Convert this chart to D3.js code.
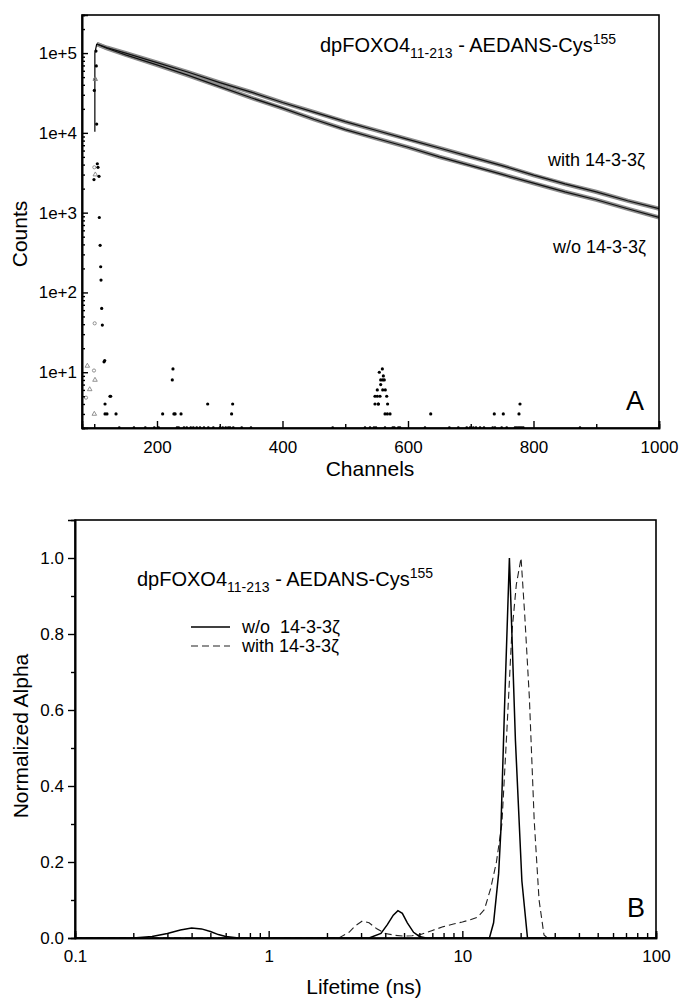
<!DOCTYPE html>
<html><head><meta charset="utf-8">
<script src="https://cdn.jsdelivr.net/npm/d3@7"></script>
<style>
html,body{margin:0;padding:0;background:#fff;}
svg{display:block;font-family:"Liberation Sans",Arial,sans-serif;}
</style></head>
<body>
<svg id="chart" width="681" height="999"></svg>
<script>
// ---------- Panel A data ----------
const decayChannels = [104, 120, 150, 200, 250, 300, 350, 400, 450, 500, 550, 600, 650, 700, 750, 800, 850, 900, 950, 1000];
const decayWith     = [1.30e5, 1.17e5, 1.0e5, 7.6e4, 5.75e4, 4.27e4, 3.24e4, 2.40e4, 1.82e4, 1.38e4, 1.07e4, 8.3e3, 6.46e3, 5.0e3, 3.89e3, 2.95e3, 2.29e3, 1.82e3, 1.41e3, 1.12e3];
const decayWithout  = [1.30e5, 1.15e5, 9.5e4, 7.1e4, 5.25e4, 3.8e4, 2.75e4, 2.04e4, 1.48e4, 1.10e4, 8.5e3, 6.6e3, 5.0e3, 3.89e3, 3.02e3, 2.34e3, 1.82e3, 1.45e3, 1.12e3, 8.7e2];
// fitted rising edge (thin black line)
const riseFitCh  = [101, 101, 104];
const riseFitVal = [1.03e4, 1.0e5, 1.30e5];
// rising-edge raw data (open symbols)
const riseWithCh  = [86.9, 99.6, 100.7, 100.1, 101.2];
const riseWithVal = [4.8, 10.5, 41, 3.7e3, 4.7e4];
const riseWoCh    = [89, 92.8, 101.2, 100.1, 101.7, 101.7];
const riseWoVal   = [12, 6.1, 8, 3.0, 3.0e3, 4.7e4];
// instrument response / low-count points (filled dots)
const irfCh  = [102.8, 103.3, 100.1, 103.9, 104.9, 106, 99.6, 107.6, 108.1, 109.4, 110.3, 110.8, 111.9, 112.9, 115.6, 116.7, 117.2, 117.2, 120.3, 125.1, 126.2, 134.7,
  209, 224.4, 225.5, 227, 228.9, 238.3, 280.8, 320.6, 318.9,
  547.4, 551.1, 552.7, 554.3, 555.4, 556.5, 559.1, 559.7, 560.7, 562.2, 563.8, 566.1, 567.5, 547.4, 552.7, 563.4, 567.1, 571.4, 551.1, 559.7, 556.5,
  636.2, 737.5, 751.9, 778.5, 776.9];
const irfVal = [1.06e5, 6.9e4, 3.4e4, 1.29e4, 4.1e3, 3.7e3, 2.6e3, 2.85e3, 870, 390, 210, 143, 63, 39, 13.5, 14, 4, 3, 3, 5, 5, 3,
  3, 8, 11, 3, 3, 3, 4, 4, 3,
  5, 5, 4, 10, 5, 7, 11, 6, 9, 8, 6, 5, 4, 4, 4, 3, 3, 3, 6, 8, 8,
  3, 3, 3, 4, 3];
const baseCh = [139.9, 163.3, 181.4, 195.7, 202.7, 231.9, 234.6, 243, 247.4, 253.8, 257.9, 263.3, 268.5, 274.9, 281.8, 289.8, 300.4, 304.7, 309.5, 313.6, 316.4, 321.6, 335, 349.8, 480,
  531.5, 539.5, 545.8, 549, 563.4, 575.7, 578.2, 584.6, 587.3, 627.1, 665.9, 680.2, 693.6, 698.8, 704.1, 708.4, 714.8, 721.1, 735, 738.6, 749.3, 757.3, 770.5, 773.2, 775.8, 778.5, 781.2, 783.8, 874.1];
const baseVal = 2;
const yTicksA = [10, 100, 1e3, 1e4, 1e5];
const yTickLabelsA = ["1e+1", "1e+2", "1e+3", "1e+4", "1e+5"];
const xTicksA = [200, 400, 600, 800, 1000];
const xTickLabelsA = ["200", "400", "600", "800", "1000"];
const xMinorA = [100, 300, 500, 700, 900];

// ---------- Panel B data ----------
const lifeWo  = [0.1, 0.2, 0.25, 0.3, 0.35, 0.4, 0.45, 0.5, 0.55, 0.6, 0.7, 3.3, 3.8, 4.1, 4.4, 4.65, 4.9, 5.2, 5.6, 6.0, 6.5, 13.8, 14.5, 15.4, 15.8, 16.5, 17.5, 18.8, 20.3, 21.7, 100];
const alphaWo = [0, 0, 0.004, 0.012, 0.021, 0.026, 0.024, 0.017, 0.009, 0.004, 0, 0, 0.012, 0.035, 0.06, 0.072, 0.065, 0.04, 0.015, 0.004, 0, 0, 0.04, 0.17, 0.28, 0.6, 1.0, 0.52, 0.15, 0, 0];
const lifeWith  = [0.1, 2.3, 2.6, 2.8, 3.05, 3.3, 3.6, 4.0, 4.5, 5.0, 5.5, 6.0, 7.0, 8.0, 9.0, 10.0, 11.0, 12.0, 13.0, 14.0, 15.0, 16.0, 17.0, 18.0, 19.0, 20.1, 21.0, 22.2, 23.5, 24.9, 26.4, 27.5, 100];
const alphaWith = [0, 0, 0.015, 0.032, 0.045, 0.040, 0.025, 0.012, 0.007, 0.005, 0.006, 0.008, 0.02, 0.03, 0.037, 0.042, 0.048, 0.055, 0.075, 0.13, 0.2, 0.3, 0.55, 0.8, 0.93, 1.0, 0.85, 0.63, 0.31, 0.1, 0.008, 0, 0];
const xTicksB = [0.1, 1, 10, 100];
const xTickLabelsB = ["0.1", "1", "10", "100"];
const yTicksB = [0, 0.2, 0.4, 0.6, 0.8, 1.0];
const yMinorB = [0.1, 0.3, 0.5, 0.7, 0.9];

const svg = d3.select("#chart");
const FONT = 17;

// ================= Panel A =================
const A = {l: 82, t: 15, r: 659, b: 428};
const xA = d3.scaleLinear().domain([80.5, 1000]).range([A.l, A.r]);
const yA = d3.scaleLog().domain([2, 3e5]).range([A.b, A.t]);
const gA = svg.append("g");

const clipA = svg.append("clipPath").attr("id", "clipA");
clipA.append("rect").attr("x", A.l).attr("y", A.t - 2).attr("width", A.r - A.l).attr("height", A.b - A.t + 4);

const plotA = gA.append("g").attr("clip-path", "url(#clipA)");
const lineA = d3.line().x((d, i) => xA(decayChannels[i])).y(d => yA(d));
[decayWith, decayWithout].forEach(s => {
  plotA.append("path").attr("d", lineA(s)).attr("fill", "none").attr("stroke", "#8c8c8c").attr("stroke-width", 4.2);
});
[decayWith, decayWithout].forEach(s => {
  plotA.append("path").attr("d", lineA(s)).attr("fill", "none").attr("stroke", "#111").attr("stroke-width", 1.2);
});
const riseLine = d3.line().x((d, i) => xA(riseFitCh[i])).y(d => yA(d));
plotA.append("path").attr("d", riseLine(riseFitVal)).attr("fill", "none").attr("stroke", "#000").attr("stroke-width", 1.2);
// open symbols
plotA.selectAll("circle.rw").data(riseWithVal).join("circle")
  .attr("cx", (d, i) => xA(riseWithCh[i])).attr("cy", d => yA(d)).attr("r", 1.6)
  .attr("fill", "none").attr("stroke", "#777").attr("stroke-width", 0.8);
const tri = d3.symbol().type(d3.symbolTriangle).size(9);
plotA.selectAll("path.ro").data(riseWoVal).join("path")
  .attr("d", tri).attr("transform", (d, i) => `translate(${xA(riseWoCh[i])},${yA(d)})`)
  .attr("fill", "none").attr("stroke", "#777").attr("stroke-width", 0.8);
// filled dots
plotA.selectAll("circle.irf").data(irfVal).join("circle")
  .attr("cx", (d, i) => xA(irfCh[i])).attr("cy", d => yA(d)).attr("r", 1.6).attr("fill", "#000");
plotA.selectAll("circle.base").data(baseCh).join("circle")
  .attr("cx", d => xA(d)).attr("cy", yA(baseVal) - 0.5).attr("r", 1.3).attr("fill", "#000");

// frame
gA.append("rect").attr("x", A.l).attr("y", A.t).attr("width", A.r - A.l).attr("height", A.b - A.t)
  .attr("fill", "none").attr("stroke", "#000").attr("stroke-width", 1.6);

// axes
const yMinorA = [];
for (let e = 0; e <= 5; e++) for (let m = 2; m <= 9; m++) { const v = m * Math.pow(10, e); if (v >= 2 && v <= 3e5) yMinorA.push(v); }
gA.append("g").attr("transform", `translate(${A.l},0)`)
  .call(d3.axisLeft(yA).tickValues(yTicksA).tickFormat((d, i) => yTickLabelsA[i]).tickSize(-6).tickPadding(5));
gA.append("g").attr("transform", `translate(${A.l},0)`)
  .call(d3.axisLeft(yA).tickValues(yMinorA).tickFormat("").tickSize(-3));
gA.append("g").attr("transform", `translate(0,${A.b})`)
  .call(d3.axisBottom(xA).tickValues(xTicksA).tickFormat((d, i) => xTickLabelsA[i]).tickSize(-7).tickPadding(13));
gA.append("g").attr("transform", `translate(0,${A.b})`)
  .call(d3.axisBottom(xA).tickValues(xMinorA).tickFormat("").tickSize(-4));

// ================= Panel B =================
const B = {l: 75, t: 520, r: 656, b: 938};
const xB = d3.scaleLog().domain([0.1, 100]).range([B.l, B.r]);
const yB = d3.scaleLinear().domain([0, 1.1]).range([B.b, B.t]);
const gB = svg.append("g");

const lineWo = d3.line().x((d, i) => xB(lifeWo[i])).y(d => yB(d));
const lineWith = d3.line().x((d, i) => xB(lifeWith[i])).y(d => yB(d));
gB.append("path").attr("d", lineWith(alphaWith)).attr("fill", "none").attr("stroke", "#222").attr("stroke-width", 1.1).attr("stroke-dasharray", "7,4");
gB.append("path").attr("d", lineWo(alphaWo)).attr("fill", "none").attr("stroke", "#000").attr("stroke-width", 1.5);

gB.append("rect").attr("x", B.l).attr("y", B.t).attr("width", B.r - B.l).attr("height", B.b - B.t)
  .attr("fill", "none").attr("stroke", "#000").attr("stroke-width", 1.6);

const xMinorB = [];
for (let e = -1; e <= 1; e++) for (let m = 2; m <= 9; m++) xMinorB.push(m * Math.pow(10, e));
gB.append("g").attr("transform", `translate(0,${B.b})`)
  .call(d3.axisBottom(xB).tickValues(xTicksB).tickFormat((d, i) => xTickLabelsB[i]).tickSize(-7).tickPadding(12));
gB.append("g").attr("transform", `translate(0,${B.b})`)
  .call(d3.axisBottom(xB).tickValues(xMinorB).tickFormat("").tickSize(-5));
gB.append("g").attr("transform", `translate(${B.l},0)`)
  .call(d3.axisLeft(yB).tickValues(yTicksB).tickFormat(d3.format(".1f")).tickSize(7).tickPadding(4));
gB.append("g").attr("transform", `translate(${B.l},0)`)
  .call(d3.axisLeft(yB).tickValues(yMinorB).tickFormat("").tickSize(4));

// common axis styling
svg.selectAll(".domain").attr("stroke", "#000").attr("stroke-width", 1.6);
svg.selectAll(".tick line").attr("stroke", "#000").attr("stroke-width", 1.4);
svg.selectAll(".tick text").attr("font-size", FONT).attr("fill", "#000").attr("font-family", "Liberation Sans, Arial, sans-serif");

// ---------- texts ----------
function titleText(g, x, y, size) {
  const t = g.append("text").attr("x", x).attr("y", y).attr("font-size", size).attr("fill", "#000");
  t.append("tspan").text("dpFOXO4");
  t.append("tspan").attr("font-size", size * 0.7).attr("dy", size * 0.3).text("11-213");
  t.append("tspan").attr("dy", -size * 0.3).text(" - AEDANS-Cys");
  t.append("tspan").attr("font-size", size * 0.7).attr("dy", -size * 0.4).text("155");
}
titleText(gA, 320, 52, 20);
titleText(gB, 137, 586, 20);

gA.append("text").attr("x", 548).attr("y", 166).attr("font-size", 18).text("with 14-3-3ζ");
gA.append("text").attr("x", 553).attr("y", 253).attr("font-size", 18).text("w/o 14-3-3ζ");
gA.append("text").attr("x", 626).attr("y", 410).attr("font-size", 27).text("A");
gB.append("text").attr("x", 627).attr("y", 917).attr("font-size", 27).text("B");

svg.append("text").attr("x", 370).attr("y", 476).attr("text-anchor", "middle").attr("font-size", 21).text("Channels");
svg.append("text").attr("transform", "translate(27,234) rotate(-90)").attr("text-anchor", "middle").attr("font-size", 21).text("Counts");
svg.append("text").attr("x", 364).attr("y", 994).attr("text-anchor", "middle").attr("font-size", 21).text("Lifetime (ns)");
svg.append("text").attr("transform", "translate(28,736) rotate(-90)").attr("text-anchor", "middle").attr("font-size", 21).text("Normalized Alpha");

// legend
const leg = gB.append("g");
leg.append("line").attr("x1", 191).attr("x2", 230).attr("y1", 627).attr("y2", 627).attr("stroke", "#000").attr("stroke-width", 1.5);
leg.append("line").attr("x1", 191).attr("x2", 230).attr("y1", 646).attr("y2", 646).attr("stroke", "#222").attr("stroke-width", 1.1).attr("stroke-dasharray", "7,4");
leg.append("text").attr("x", 242).attr("y", 633).attr("font-size", 18).style("white-space", "pre").text("w/o  14-3-3ζ");
leg.append("text").attr("x", 242).attr("y", 652).attr("font-size", 18).text("with 14-3-3ζ");
</script>
</body></html>
